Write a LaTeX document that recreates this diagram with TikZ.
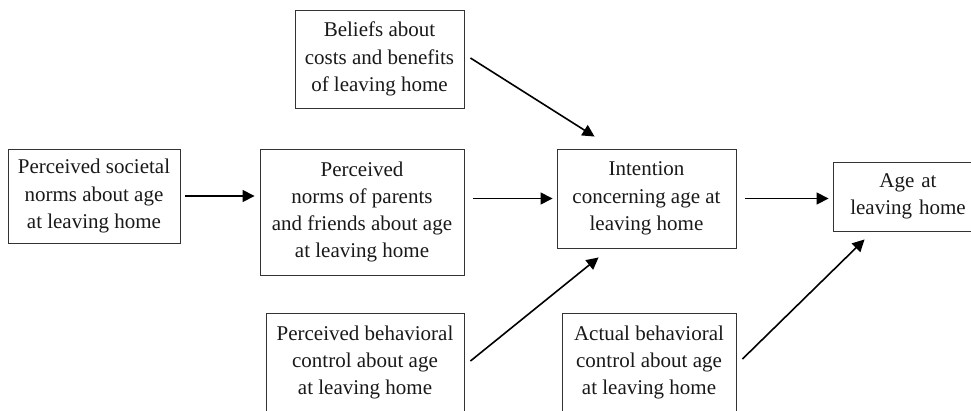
\documentclass[tikz,border=0pt]{standalone}
\usepackage{fontspec}
\setmainfont{Liberation Serif}
\usetikzlibrary{arrows.meta}
\begin{document}
\begin{tikzpicture}[x=1pt,y=-1pt,
  box/.style={draw=black!80,line width=0.9pt,align=center,inner sep=0pt,
    font=\fontsize{21}{27.3}\selectfont,text=black!90},
  conn/.style={line width=1.6pt,-{Triangle[length=12pt,width=12pt]}}]
\useasboundingbox (0,0) rectangle (971,410);
\clip (0,0) rectangle (971,410);
\node[box,minimum width=169pt,minimum height=98pt] (beliefs) at (379.5,59) {Beliefs about\\costs and benefits\\of leaving home};
\node[box,minimum width=172pt,minimum height=94pt] (societal) at (94,196) {Perceived societal\\norms about age\\at leaving home};
\node[box,minimum width=204pt,minimum height=126pt] (parents) at (362,212) {Perceived\\norms of parents\\and friends about age\\at leaving home};
\node[box,minimum width=198pt,minimum height=99pt] (pbc) at (365,362.5) {Perceived behavioral\\control about age\\at leaving home};
\node[box,minimum width=179pt,minimum height=99pt] (intention) at (646.5,198.5) {Intention\\concerning age at\\leaving home};
\node[box,minimum width=150pt,minimum height=69pt,text width=150pt] (age) at (908,196.5) {Age at\\leaving home};
\node[box,minimum width=174pt,minimum height=99pt] (abc) at (649,362.5) {Actual behavioral\\control about age\\at leaving home};
\draw[conn,shorten <=5pt,shorten >=5pt] (societal.east) -- (societal.east -| parents.west);
\draw[conn,shorten <=9pt,shorten >=4pt] (parents.east |- intention.west) -- (intention.west);
\draw[conn,shorten <=9pt,shorten >=4pt] (intention.east) -- (intention.east -| age.west);
\draw[conn] ([shift={(6,-1)}]beliefs.east) -- ([shift={(38,-12)}]intention.north west);
\draw[conn] ([shift={(6,-1.5)}]pbc.east) -- ([shift={(42,9)}]intention.south west);
\draw[conn] ([shift={(6,-3.5)}]abc.east) -- ([shift={(32,8)}]age.south west);
\end{tikzpicture}
\end{document}
